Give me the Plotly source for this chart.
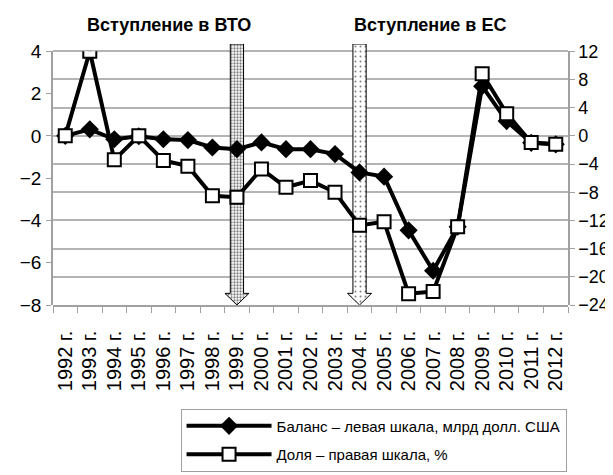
import plotly.graph_objects as go

# ---------------- data ----------------
years = ["1992 г.", "1993 г.", "1994 г.", "1995 г.", "1996 г.", "1997 г.", "1998 г.",
         "1999 г.", "2000 г.", "2001 г.", "2002 г.", "2003 г.", "2004 г.", "2005 г.",
         "2006 г.", "2007 г.", "2008 г.", "2009 г.", "2010 г.", "2011 г.", "2012 г."]
balance = [0.0, 0.31, -0.16, -0.02, -0.16, -0.2, -0.55, -0.63, -0.31, -0.63, -0.63,
           -0.86, -1.73, -1.93, -4.47, -6.38, -4.3, 2.35, 0.7, -0.33, -0.4]
share = [0.0, 12.0, -3.4, 0.0, -3.5, -4.3, -8.5, -8.7, -4.7, -7.3, -6.35,
         -8.0, -12.7, -12.2, -22.4, -22.1, -12.9, 8.8, 3.15, -0.95, -1.18]
left_ticks = [4, 2, 0, -2, -4, -6, -8]
right_ticks = [12, 8, 4, 0, -4, -8, -12, -16, -20, -24]
events = [("Вступление в ВТО", "1999 г."), ("Вступление в ЕС", "2004 г.")]
series_names = ["Баланс – левая шкала, млрд долл. США", "Доля – правая шкала, %"]

# ---------------- styles ----------------
FONT = "Liberation Sans, Arial, sans-serif"
GRID = "#b4b4b4"
AXIS = "#a0a0a0"
W, H = 613, 475
M_L, M_R, M_T, M_B = 41, 39, 36, 177
plot_h = H - M_T - M_B
plot_w = W - M_L - M_R
data_frac = (H - M_B - 43.3) / plot_h          # share of the plot used by the data axes
r_lo, r_hi = min(right_ticks), max(right_ticks)
arrow_top = r_lo + (r_hi - r_lo) / data_frac   # arrow axis top (slightly above data top)

x_idx = list(range(len(years)))

fig = go.Figure()

# event arrows (drawn first, beneath the lines)
arrow_styles = [
    dict(shape=".", fgcolor="#000000", bgcolor="#ffffff", size=3, solidity=0.45),
    dict(shape=".", fgcolor="#000000", bgcolor="#ffffff", size=5, solidity=0.12),
]
hw, hh, head_h = 0.27, 0.49, 1.65
for (label, yr), pat in zip(events, arrow_styles):
    c = years.index(yr)
    base = r_lo + head_h
    xs = [c - hw, c + hw, c + hw, c + hh, c, c - hh, c - hw, c - hw]
    ys = [arrow_top, arrow_top, base, base, r_lo, base, base, arrow_top]
    fig.add_trace(go.Scatter(x=xs, y=ys, mode="lines", fill="toself",
                             fillpattern=pat, line=dict(color="#000000", width=1),
                             xaxis="x", yaxis="y", showlegend=False, hoverinfo="skip"))

fig.add_trace(go.Scatter(
    x=x_idx, y=balance, name=series_names[0], mode="lines+markers",
    line=dict(color="#000000", width=4),
    marker=dict(symbol="diamond", size=14, color="#000000"),
    xaxis="x", yaxis="y2", legendgroup="a"))
fig.add_trace(go.Scatter(
    x=x_idx, y=share, name=series_names[1], mode="lines+markers",
    line=dict(color="#000000", width=4),
    marker=dict(symbol="square", size=13, color="#ffffff",
                line=dict(color="#000000", width=2)),
    xaxis="x", yaxis="y3", legendgroup="b"))

# event titles
anchors = [("right", 0.65), ("left", -0.3)]
for (label, yr), (anc, off) in zip(events, anchors):
    c = years.index(yr)
    fig.add_annotation(x=c + off, y=1.072, xref="x", yref="paper", text=label,
                       showarrow=False, xanchor=anc, yanchor="middle",
                       font=dict(family=FONT, size=18, color="#000000", weight="bold"))

fig.update_layout(
    width=W, height=H,
    margin=dict(l=M_L, r=M_R, t=M_T, b=M_B),
    paper_bgcolor="#ffffff", plot_bgcolor="rgba(0,0,0,0)",
    font=dict(family=FONT, size=19, color="#000000"),
    xaxis=dict(range=[-0.5, len(years) - 0.5], tickmode="array", tickvals=x_idx,
               ticktext=years, tickangle=-90, ticks="", showgrid=False, zeroline=False,
               showline=True, linecolor=AXIS, linewidth=1.5,
               tickfont=dict(size=20), anchor="y", ticklabelstandoff=16,
               minor=dict(tickmode="array", tickvals=[i - 0.5 for i in range(len(years) + 1)],
                          ticks="outside", ticklen=6, tickcolor=AXIS, tickwidth=1,
                          showgrid=False)),
    yaxis=dict(domain=[0, 1], range=[r_lo, arrow_top], tickmode="array",
               tickvals=right_ticks, showticklabels=False, ticks="", showgrid=True,
               gridcolor=GRID, gridwidth=1.5, zeroline=False, showline=False),
    yaxis2=dict(domain=[0, data_frac], anchor="x", side="left", range=[-8, 4],
                tickmode="array", tickvals=left_ticks, ticks="outside", ticklen=5,
                tickcolor=AXIS, showgrid=False, zeroline=False, showline=True,
                linecolor=AXIS, linewidth=1.5, ticklabelstandoff=1),
    yaxis3=dict(overlaying="y2", anchor="x", side="right", range=[r_lo, r_hi],
                tickmode="array", tickvals=right_ticks, ticks="outside", ticklen=5,
                tickcolor=AXIS, showgrid=False, zeroline=False, showline=True,
                linecolor=AXIS, linewidth=1.5, ticklabelstandoff=0,
                tickfont=dict(size=18)),
    legend=dict(x=(173 - M_L) / plot_w, y=(H - M_B - 402) / plot_h,
                xanchor="left", yanchor="top", bgcolor="#ffffff",
                bordercolor=AXIS, borderwidth=1, itemwidth=85,
                font=dict(size=15), tracegroupgap=6),
    showlegend=True,
)

fig.write_html("out.html")
